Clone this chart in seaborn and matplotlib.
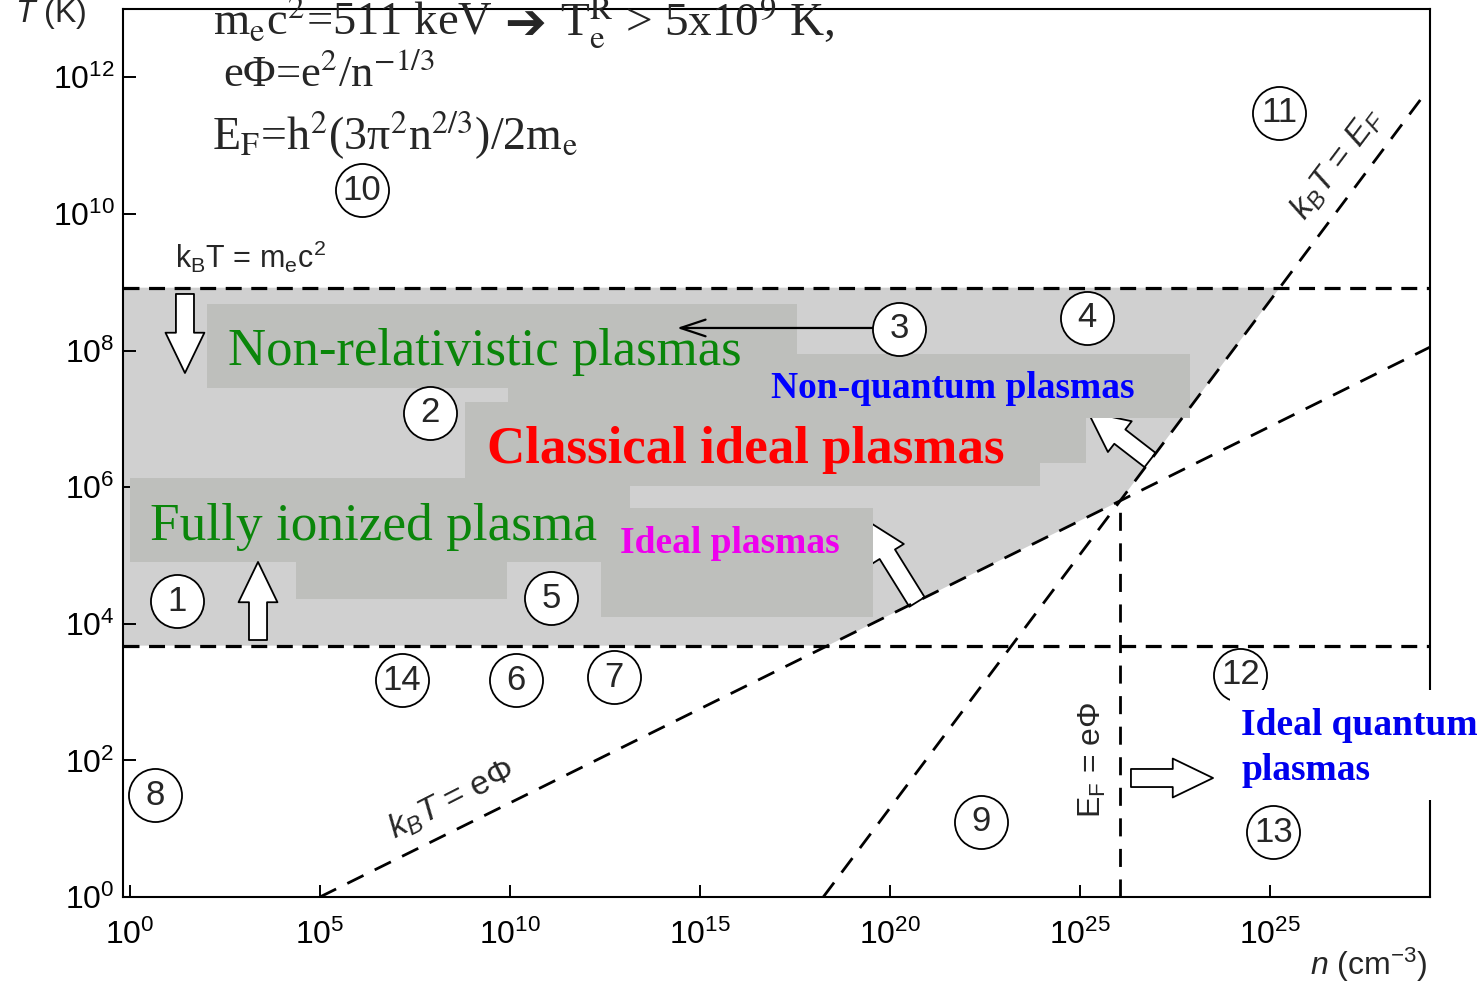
import numpy as np
import pandas as pd
import matplotlib
matplotlib.use("Agg")
import matplotlib.pyplot as plt
import seaborn as sns
from matplotlib.patches import Rectangle, FancyArrowPatch
from matplotlib.ticker import NullLocator, FixedLocator, FixedFormatter

# ---------------- data (log10 units) ----------------
# kB T = e Phi boundary
logn_ephi = [5.0, 26.05, 34.2]
logT_ephi = [0.0, 5.8, 8.05]
# kB T = E_F boundary
logn_ef = [18.24, 26.05, 33.96]
logT_ef = [0.0, 5.8, 11.68]
# kB T = m_e c^2 (relativistic limit) and ionisation limit
logT_rel = 8.92
logT_ion = 3.68
# E_F = e Phi (vertical line)
logn_efephi = 26.05
logT_efephi_top = 5.8

# axis range
logn_min, logn_max = -0.18, 34.2
logT_min, logT_max = 0.0, 13.0

x_tick_exp = [0, 5, 10, 15, 20, 25, 30]
x_tick_labels = ["$10^{0}$", "$10^{5}$", "$10^{10}$", "$10^{15}$", "$10^{20}$", "$10^{25}$", "$10^{25}$"]
y_tick_exp = [0, 2, 4, 6, 8, 10, 12]
y_tick_labels = ["$10^{0}$", "$10^{2}$", "$10^{4}$", "$10^{6}$", "$10^{8}$", "$10^{10}$", "$10^{12}$"]

# numbered regions (log n, log T)
region_ids = ["1", "2", "3", "4", "5", "6", "7", "8", "9", "10", "11", "12", "13", "14"]
region_logn = [1.24, 7.89, 20.24, 25.18, 11.08, 10.16, 12.74, 0.66, 22.39, 6.11, 30.24, 29.21, 30.08, 7.16]
region_logT = [4.33, 7.09, 8.32, 8.48, 4.37, 3.17, 3.22, 1.49, 1.10, 10.35, 11.48, 3.25, 0.95, 3.17]

# ---------------- style ----------------
sns.set_theme(style="white")
plt.rcParams["font.family"] = ["Liberation Sans", "DejaVu Sans"]
plt.rcParams["mathtext.fontset"] = "custom"
plt.rcParams["mathtext.rm"] = "Liberation Sans"
plt.rcParams["mathtext.it"] = "Liberation Sans:italic"
plt.rcParams["mathtext.bf"] = "Liberation Sans:bold"

fig = plt.figure(figsize=(14.82, 9.84), dpi=100)
ax = fig.add_axes([123 / 1482, 87 / 984, (1430 - 123) / 1482, (975 - 87) / 984])
ax.set_xscale("log")
ax.set_yscale("log")
ax.set_xlim(10 ** logn_min, 10 ** logn_max)
ax.set_ylim(10 ** logT_min, 10 ** logT_max)

LIGHT = "#d0d0d0"
DARK = "#bebfbc"

# shaded "classical ideal plasma" region
x_bot = float(np.interp(logT_ion, logT_ephi, logn_ephi))
x_top = float(np.interp(logT_rel, logT_ef, logn_ef))
poly_logn = [logn_min, x_bot, logn_ephi[1], x_top, logn_min]
poly_logT = [logT_ion, logT_ion, logT_ephi[1], logT_rel, logT_rel]
ax.fill(10 ** np.array(poly_logn), 10 ** np.array(poly_logT), color=LIGHT, lw=0, zorder=0.5)

# darker text boxes (axes fraction: x0, x1, y0, y1)
boxes = [
    (0.0643, 0.5157, 0.5732, 0.6678),
    (0.2946, 0.4927, 0.5394, 0.5901),
    (0.4927, 0.8164, 0.5394, 0.6115),
    (0.2617, 0.7368, 0.4887, 0.5574),
    (0.2617, 0.7016, 0.4628, 0.5574),
    (0.0054, 0.3879, 0.3773, 0.4718),
    (0.1324, 0.2938, 0.3356, 0.3773),
    (0.3657, 0.5738, 0.3153, 0.4381),
]
for x0, x1, y0, y1 in boxes:
    ax.add_patch(Rectangle((x0, y0), x1 - x0, y1 - y0, transform=ax.transAxes,
                           facecolor=DARK, edgecolor="none", zorder=1.5))

# boundary lines
hd = (0, (5, 3))
sd = (0, (6.5, 4.5))
sns.lineplot(x=10 ** np.array([logn_min, logn_max]), y=[10 ** logT_rel] * 2, ax=ax,
             color="black", lw=2.3, linestyle=hd, estimator=None, zorder=2)
sns.lineplot(x=10 ** np.array([logn_min, logn_max]), y=[10 ** logT_ion] * 2, ax=ax,
             color="black", lw=2.3, linestyle=hd, estimator=None, zorder=2)
sns.lineplot(x=10 ** np.array(logn_ephi), y=10 ** np.array(logT_ephi), ax=ax,
             color="black", lw=2.0, linestyle=sd, estimator=None, zorder=2)
sns.lineplot(x=10 ** np.array(logn_ef), y=10 ** np.array(logT_ef), ax=ax,
             color="black", lw=2.0, linestyle=sd, estimator=None, zorder=2)
ax.plot([10 ** logn_efephi] * 2, [10 ** logT_min, 10 ** logT_efephi_top],
        color="black", lw=2.0, linestyle=sd, zorder=2)

# block arrows (axes fraction)
def block_arrow(p0, p1, z=1.2):
    a = FancyArrowPatch(p0, p1, transform=ax.transAxes,
                        arrowstyle="simple,head_length=29,head_width=28,tail_width=13",
                        mutation_scale=1, shrinkA=0, shrinkB=0,
                        facecolor="white", edgecolor="black", lw=1.3, zorder=z)
    ax.add_patch(a)

block_arrow((0.0474, 0.6791), (0.0474, 0.5901), z=1.6)
block_arrow((0.1033, 0.2894), (0.1033, 0.3773), z=1.6)
block_arrow((0.7858, 0.4921), (0.7383, 0.5462))
block_arrow((0.6075, 0.3322), (0.5685, 0.4245))
block_arrow((0.7712, 0.1340), (0.8340, 0.1340), z=1.6)

thin = FancyArrowPatch((0.5738, 0.6408), (0.4239, 0.6408), transform=ax.transAxes,
                       arrowstyle="->,head_length=0.9,head_width=0.3", mutation_scale=20,
                       shrinkA=0, shrinkB=0, color="black", lw=1.6, zorder=2.2)
ax.add_patch(thin)

# numbered circles
sns.scatterplot(x=10 ** np.array(region_logn), y=10 ** np.array(region_logT), ax=ax,
                s=1460, color="white", edgecolor="black", linewidth=1.3, zorder=4,
                legend=False, clip_on=False)
for lab, xn, yt in zip(region_ids, region_logn, region_logT):
    ax.text(10 ** xn, 10 ** yt, lab, ha="center", va="center", fontsize=25, zorder=5)

# white box behind "Ideal quantum plasmas"
ax.add_patch(Rectangle((0.8470, 0.1092), 0.20, 0.1239, transform=ax.transAxes,
                       facecolor="white", edgecolor="none", zorder=6, clip_on=False))

# region texts
SERIF = ["Liberation Serif", "DejaVu Sans"]
ax.text(0.0803, 0.5991, "Non-relativistic plasmas", transform=ax.transAxes, family=SERIF,
        fontsize=38, color="#0a860a", va="baseline", zorder=5)
ax.text(0.0207, 0.4020, "Fully ionized plasma", transform=ax.transAxes, family=SERIF,
        fontsize=38.3, color="#0a860a", va="baseline", zorder=5)
ax.text(0.2785, 0.4887, "Classical ideal plasmas", transform=ax.transAxes, family=SERIF,
        fontsize=38.2, color="#ff0000", fontweight="bold", va="baseline", zorder=5)
ax.text(0.4958, 0.5619, "Non-quantum plasmas", transform=ax.transAxes, family=SERIF,
        fontsize=27, color="#0000ff", fontweight="bold", va="baseline", zorder=5)
ax.text(0.3803, 0.3874, "Ideal plasmas", transform=ax.transAxes, family=SERIF,
        fontsize=27, color="#ee00ee", fontweight="bold", va="baseline", zorder=5)
ax.text(0.8554, 0.1824, "Ideal quantum", transform=ax.transAxes, family=SERIF,
        fontsize=27, color="#0000ee", fontweight="bold", va="baseline", zorder=7, clip_on=False)
ax.text(0.8554, 0.1318, "plasmas", transform=ax.transAxes, family=SERIF,
        fontsize=27, color="#0000ee", fontweight="bold", va="baseline", zorder=7, clip_on=False)

# formulas (serif text with stix math for scripts)
ax.text(0.0689, 0.9696, r"m$_\mathrm{e}$c$^\mathrm{2}$=511 keV",
        transform=ax.transAxes, fontsize=33.5, family=SERIF, math_fontfamily="stix",
        va="baseline", zorder=5, clip_on=False)
ax.text(0.3075, 0.9820, "➔", transform=ax.transAxes, fontsize=36,
        family=["DejaVu Sans"], ha="center", va="center", zorder=5, clip_on=False)
ax.text(0.3344, 0.9696, r"T$_\mathrm{e}^\mathrm{R}$ > 5x10$^\mathrm{9}$ K,",
        transform=ax.transAxes, fontsize=34, family=SERIF, math_fontfamily="stix",
        va="baseline", zorder=5, clip_on=False)
ax.text(0.0765, 0.9133, r"eΦ=e$^\mathrm{2}$/n$^{\mathrm{-1/3}}$",
        transform=ax.transAxes, fontsize=32, family=SERIF, math_fontfamily="stix",
        va="baseline", zorder=5)
ax.text(0.0681, 0.8412, r"E$_\mathrm{F}$=h$^\mathrm{2}$(3π$^\mathrm{2}$n$^{\mathrm{2/3}}$)/2m$_\mathrm{e}$",
        transform=ax.transAxes, fontsize=33, family=SERIF, math_fontfamily="stix",
        va="baseline", zorder=5)

# line labels
ax.text(0.0398, 0.7083, r"k$_\mathrm{B}$T = m$_\mathrm{e}$c$^\mathrm{2}$", transform=ax.transAxes,
        fontsize=22, va="baseline", zorder=5)
ax.text(0.251, 0.109, r"$k_B$$T$ = e$\Phi$", transform=ax.transAxes, fontsize=24,
        rotation=27, ha="center", va="center", rotation_mode="anchor", zorder=5)
ax.text(0.929, 0.826, r"$k_B$$T$ = $E_F$", transform=ax.transAxes, fontsize=24,
        rotation=53, ha="center", va="center", rotation_mode="anchor", zorder=5)
ax.text(0.7414, 0.1543, r"E$_\mathrm{F}$ = e$\Phi$", transform=ax.transAxes, fontsize=23,
        rotation=90, ha="center", va="center", rotation_mode="anchor", zorder=5)

# axes / ticks
ax.xaxis.set_major_locator(FixedLocator([10.0 ** k for k in x_tick_exp]))
ax.xaxis.set_major_formatter(FixedFormatter(x_tick_labels))
ax.yaxis.set_major_locator(FixedLocator([10.0 ** k for k in y_tick_exp]))
ax.yaxis.set_major_formatter(FixedFormatter(y_tick_labels))
ax.xaxis.set_minor_locator(NullLocator())
ax.yaxis.set_minor_locator(NullLocator())
ax.tick_params(axis="both", which="major", direction="in", length=9, width=1.4,
               labelsize=23, bottom=True, left=True, top=False, right=False,
               colors="black")
ax.tick_params(axis="x", pad=16)
ax.tick_params(axis="y", pad=6)
for sp in ax.spines.values():
    sp.set_color("black")
    sp.set_linewidth(1.5)
ax.set_xlabel("")
ax.set_ylabel("")

fig.text(15 / 1482, (984 - 22) / 984, r"$T$ (K)", fontsize=23, va="baseline")
fig.text(1310 / 1482, (984 - 975) / 984, r"$n$ (cm$^{-3}$)", fontsize=23, va="baseline")

fig.savefig("out.png", dpi=100)
